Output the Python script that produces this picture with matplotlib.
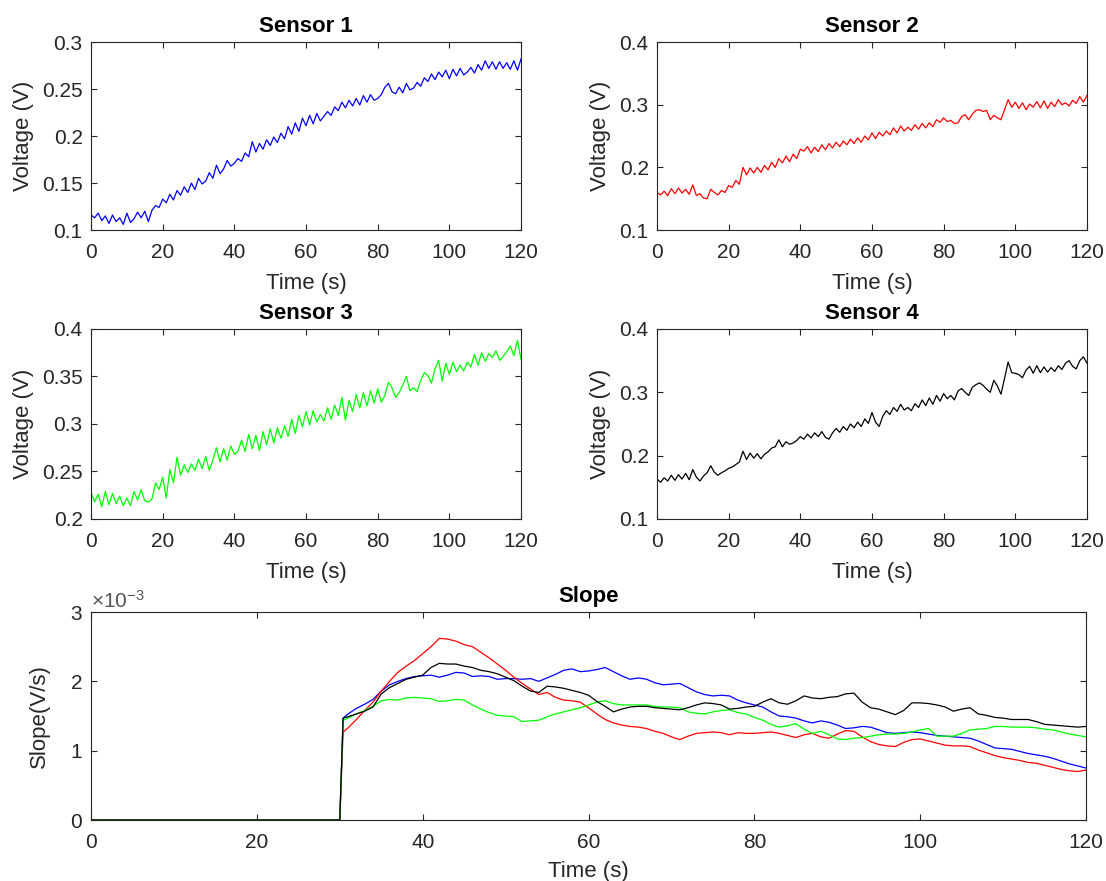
import numpy as np
import matplotlib.pyplot as plt
from matplotlib.ticker import FuncFormatter, ScalarFormatter

plt.rcParams['font.family'] = ['Liberation Sans', 'DejaVu Sans']
plt.rcParams['mathtext.default'] = 'regular'

# sensor voltages, one sample per second
t = np.arange(0, 121)

sensor1 = [
    0.116, 0.113, 0.118, 0.110, 0.115, 0.107, 0.116, 0.109, 0.113, 0.106,
    0.118, 0.108, 0.112, 0.119, 0.113, 0.120, 0.109, 0.121, 0.126, 0.124,
    0.133, 0.129, 0.138, 0.132, 0.142, 0.137, 0.146, 0.140, 0.150, 0.143,
    0.155, 0.149, 0.152, 0.161, 0.155, 0.169, 0.160, 0.165, 0.174, 0.168,
    0.171, 0.176, 0.173, 0.182, 0.178, 0.194, 0.183, 0.192, 0.186, 0.196,
    0.190, 0.199, 0.193, 0.203, 0.197, 0.210, 0.202, 0.214, 0.205, 0.219,
    0.211, 0.222, 0.213, 0.224, 0.216, 0.221, 0.226, 0.222, 0.231, 0.227,
    0.236, 0.230, 0.238, 0.232, 0.240, 0.233, 0.243, 0.236, 0.244, 0.238,
    0.240, 0.244, 0.252, 0.256, 0.247, 0.245, 0.252, 0.246, 0.256, 0.249,
    0.251, 0.257, 0.253, 0.262, 0.258, 0.266, 0.260, 0.268, 0.263, 0.270,
    0.261, 0.271, 0.264, 0.272, 0.265, 0.268, 0.273, 0.267, 0.276, 0.270,
    0.280, 0.272, 0.279, 0.271, 0.279, 0.272, 0.278, 0.271, 0.280, 0.270,
    0.282,
]

sensor2 = [
    0.160, 0.156, 0.162, 0.155, 0.166, 0.158, 0.167, 0.159, 0.165, 0.157,
    0.172, 0.155, 0.158, 0.151, 0.150, 0.165, 0.160, 0.156, 0.163, 0.160,
    0.171, 0.168, 0.179, 0.173, 0.200, 0.188, 0.199, 0.191, 0.200, 0.192,
    0.203, 0.196, 0.208, 0.200, 0.214, 0.207, 0.218, 0.209, 0.221, 0.214,
    0.229, 0.226, 0.233, 0.223, 0.232, 0.225, 0.236, 0.228, 0.238, 0.231,
    0.240, 0.233, 0.242, 0.236, 0.245, 0.238, 0.247, 0.240, 0.250, 0.244,
    0.255, 0.246, 0.256, 0.250, 0.258, 0.252, 0.263, 0.255, 0.266, 0.258,
    0.264, 0.259, 0.268, 0.261, 0.270, 0.263, 0.271, 0.265, 0.276, 0.272,
    0.279, 0.273, 0.275, 0.270, 0.271, 0.281, 0.284, 0.276, 0.285, 0.291,
    0.292, 0.289, 0.291, 0.276, 0.283, 0.279, 0.276, 0.292, 0.308, 0.296,
    0.304, 0.294, 0.303, 0.292, 0.301, 0.296, 0.305, 0.295, 0.306, 0.294,
    0.304, 0.297, 0.308, 0.300, 0.303, 0.298, 0.307, 0.302, 0.313, 0.304,
    0.315,
]

sensor3 = [
    0.228, 0.218, 0.226, 0.213, 0.229, 0.215, 0.227, 0.216, 0.224, 0.214,
    0.222, 0.214, 0.229, 0.220, 0.231, 0.219, 0.218, 0.221, 0.238, 0.231,
    0.244, 0.222, 0.252, 0.238, 0.265, 0.246, 0.257, 0.249, 0.258, 0.251,
    0.263, 0.253, 0.266, 0.251, 0.262, 0.275, 0.260, 0.274, 0.262, 0.277,
    0.268, 0.271, 0.283, 0.271, 0.289, 0.274, 0.288, 0.272, 0.292, 0.278,
    0.295, 0.280, 0.296, 0.285, 0.298, 0.287, 0.305, 0.290, 0.309, 0.297,
    0.313, 0.299, 0.314, 0.302, 0.310, 0.303, 0.317, 0.305, 0.320, 0.309,
    0.328, 0.304, 0.325, 0.313, 0.331, 0.317, 0.333, 0.319, 0.335, 0.322,
    0.337, 0.323, 0.330, 0.344, 0.338, 0.328, 0.333, 0.341, 0.350, 0.335,
    0.338, 0.334, 0.346, 0.354, 0.351, 0.343, 0.358, 0.367, 0.345, 0.364,
    0.352, 0.365, 0.355, 0.362, 0.356, 0.365, 0.360, 0.373, 0.362, 0.375,
    0.366, 0.374, 0.370, 0.377, 0.367, 0.371, 0.376, 0.382, 0.372, 0.388,
    0.368,
]

sensor4 = [
    0.163, 0.158, 0.165, 0.160, 0.169, 0.161, 0.170, 0.163, 0.172, 0.162,
    0.178, 0.166, 0.160, 0.168, 0.173, 0.184, 0.174, 0.169, 0.173, 0.176,
    0.180, 0.182, 0.186, 0.190, 0.207, 0.194, 0.204, 0.196, 0.203, 0.195,
    0.202, 0.206, 0.212, 0.214, 0.225, 0.214, 0.222, 0.218, 0.220, 0.224,
    0.230, 0.226, 0.234, 0.228, 0.236, 0.230, 0.238, 0.229, 0.226, 0.236,
    0.243, 0.237, 0.246, 0.240, 0.250, 0.244, 0.253, 0.246, 0.258, 0.251,
    0.268, 0.253, 0.246, 0.262, 0.271, 0.265, 0.276, 0.270, 0.281, 0.272,
    0.276, 0.271, 0.282, 0.276, 0.288, 0.279, 0.291, 0.281, 0.295, 0.286,
    0.298, 0.290, 0.295, 0.288, 0.302, 0.306, 0.300, 0.295, 0.308, 0.312,
    0.315, 0.311, 0.305, 0.300, 0.319, 0.310, 0.297, 0.322, 0.348, 0.331,
    0.330, 0.328, 0.323, 0.335, 0.341, 0.330, 0.342, 0.331, 0.340, 0.332,
    0.339, 0.333, 0.342, 0.336, 0.346, 0.350, 0.341, 0.337, 0.350, 0.356,
    0.346,
]

# slopes (mV/s): zero until 30 s, then one value at 30.4 s and every second after
t_slope = np.concatenate([[0, 30, 30.4], np.arange(31, 121)])

slope1 = [
    0, 0, 1.47,
    1.53, 1.61, 1.67, 1.74, 1.86, 1.95, 2.00, 2.04, 2.07, 2.08,
    2.09, 2.06, 2.09, 2.13, 2.12, 2.07, 2.08, 2.07, 2.03, 2.04,
    2.04, 2.03, 2.04, 2.00, 2.05, 2.10, 2.16, 2.18, 2.14, 2.15,
    2.17, 2.20, 2.14, 2.08, 2.03, 2.05, 2.03, 1.98, 1.95, 1.96,
    1.97, 1.91, 1.85, 1.81, 1.79, 1.80, 1.79, 1.73, 1.69, 1.66,
    1.63, 1.56, 1.50, 1.49, 1.47, 1.43, 1.40, 1.43, 1.41, 1.37,
    1.32, 1.33, 1.35, 1.34, 1.30, 1.26, 1.25, 1.26, 1.27, 1.26,
    1.24, 1.22, 1.21, 1.20, 1.19, 1.18, 1.14, 1.09, 1.04, 1.03,
    1.02, 0.99, 0.96, 0.94, 0.92, 0.89, 0.85, 0.81, 0.78, 0.75,
]

slope2 = [
    0, 0, 1.27,
    1.33, 1.45, 1.58, 1.70, 1.86, 2.00, 2.13, 2.22, 2.30, 2.40,
    2.50, 2.62, 2.61, 2.58, 2.53, 2.50, 2.42, 2.34, 2.25, 2.16,
    2.06, 1.97, 1.89, 1.81, 1.84, 1.77, 1.73, 1.72, 1.70, 1.62,
    1.53, 1.45, 1.40, 1.37, 1.35, 1.34, 1.32, 1.28, 1.25, 1.20,
    1.16, 1.21, 1.25, 1.26, 1.27, 1.26, 1.23, 1.26, 1.25, 1.25,
    1.26, 1.27, 1.25, 1.22, 1.19, 1.23, 1.25, 1.20, 1.18, 1.24,
    1.29, 1.28, 1.20, 1.13, 1.09, 1.07, 1.06, 1.12, 1.16, 1.17,
    1.14, 1.11, 1.08, 1.07, 1.07, 1.06, 1.01, 0.97, 0.93, 0.90,
    0.88, 0.86, 0.83, 0.82, 0.79, 0.76, 0.73, 0.71, 0.70, 0.72,
]

slope3 = [
    0, 0, 1.44,
    1.47, 1.53, 1.58, 1.64, 1.72, 1.74, 1.73, 1.76, 1.77, 1.76,
    1.75, 1.71, 1.72, 1.74, 1.73, 1.66, 1.60, 1.55, 1.51, 1.50,
    1.49, 1.42, 1.43, 1.44, 1.49, 1.53, 1.56, 1.59, 1.62, 1.66,
    1.70, 1.72, 1.68, 1.66, 1.66, 1.66, 1.66, 1.64, 1.63, 1.63,
    1.62, 1.56, 1.54, 1.53, 1.56, 1.58, 1.59, 1.55, 1.53, 1.48,
    1.44, 1.38, 1.34, 1.36, 1.39, 1.31, 1.25, 1.28, 1.23, 1.17,
    1.16, 1.18, 1.19, 1.21, 1.23, 1.24, 1.24, 1.25, 1.27, 1.30,
    1.32, 1.21, 1.21, 1.21, 1.25, 1.30, 1.31, 1.32, 1.35, 1.35,
    1.34, 1.34, 1.34, 1.33, 1.31, 1.30, 1.27, 1.24, 1.22, 1.20,
]

slope4 = [
    0, 0, 1.47,
    1.49, 1.53, 1.57, 1.63, 1.82, 1.91, 1.97, 2.03, 2.06, 2.09,
    2.20, 2.26, 2.25, 2.25, 2.22, 2.20, 2.16, 2.14, 2.11, 2.06,
    2.01, 1.93, 1.86, 1.84, 1.93, 1.92, 1.90, 1.87, 1.84, 1.80,
    1.71, 1.64, 1.56, 1.60, 1.63, 1.64, 1.64, 1.62, 1.61, 1.60,
    1.59, 1.62, 1.66, 1.69, 1.68, 1.66, 1.60, 1.61, 1.63, 1.64,
    1.70, 1.75, 1.69, 1.67, 1.72, 1.79, 1.76, 1.75, 1.77, 1.78,
    1.82, 1.83, 1.70, 1.62, 1.60, 1.56, 1.52, 1.58, 1.69, 1.69,
    1.68, 1.66, 1.63, 1.57, 1.60, 1.62, 1.53, 1.51, 1.48, 1.47,
    1.45, 1.45, 1.45, 1.42, 1.38, 1.37, 1.36, 1.35, 1.34, 1.35,
]

colors = ['#0000ff', '#ff0000', '#00ff00', '#000000']
titles = ['Sensor 1', 'Sensor 2', 'Sensor 3', 'Sensor 4']
ylims = [(0.1, 0.3), (0.1, 0.4), (0.2, 0.4), (0.1, 0.4)]
yticks = [
    [0.1, 0.15, 0.2, 0.25, 0.3],
    [0.1, 0.2, 0.3, 0.4],
    [0.2, 0.25, 0.3, 0.35, 0.4],
    [0.1, 0.2, 0.3, 0.4],
]
xticks = [0, 20, 40, 60, 80, 100, 120]

grey = '#262626'
tick_fs = 15
label_fs = 16

def style_axes(ax):
    for sp in ax.spines.values():
        sp.set_color(grey)
        sp.set_linewidth(0.8)
    ax.tick_params(direction='in', length=4.5, width=0.8, colors=grey,
                   labelsize=tick_fs, top=True, right=True, pad=6)
    ax.tick_params(axis='x', pad=9.5)
    ax.set_xlim(0, 120)
    ax.set_xticks(xticks)
    ax.set_xlabel('Time (s)', fontsize=label_fs, color=grey, labelpad=8)

fig = plt.figure(figsize=(11.06, 8.81), dpi=100)

positions = [
    [0.0823, 0.7389, 0.3888, 0.2134],
    [0.5940, 0.7389, 0.3888, 0.2134],
    [0.0823, 0.4109, 0.3888, 0.2157],
    [0.5940, 0.4109, 0.3888, 0.2157],
]
sensors = [sensor1, sensor2, sensor3, sensor4]

for i in range(4):
    ax = fig.add_axes(positions[i])
    ax.plot(t, sensors[i], color=colors[i], lw=0.9)
    style_axes(ax)
    ax.set_ylim(*ylims[i])
    ax.set_yticks(yticks[i])
    ax.yaxis.set_major_formatter(FuncFormatter(lambda v, p: '%g' % v))
    ax.set_ylabel('Voltage (V)', fontsize=label_fs, color=grey, labelpad=6)
    ax.set_title(titles[i], fontsize=label_fs, fontweight='bold', pad=7)

# slope of all four sensors
ax = fig.add_axes([0.0823, 0.0692, 0.8997, 0.2361])
for s, c in zip([slope1, slope2, slope3, slope4], colors):
    ax.plot(t_slope, np.array(s) * 1e-3, color=c, lw=0.9)
style_axes(ax)
ax.set_xlabel('Time (s)', fontsize=label_fs, color=grey, labelpad=6)
ax.set_ylim(0, 3e-3)
ax.set_yticks([0, 1e-3, 2e-3, 3e-3])
fmt = ScalarFormatter(useMathText=True)
fmt.set_powerlimits((-3, -3))
ax.yaxis.set_major_formatter(fmt)
ax.yaxis.get_offset_text().set_fontsize(tick_fs)
ax.yaxis.get_offset_text().set_color('#555555')
ax.set_ylabel('Slope(V/s)', fontsize=label_fs, color=grey, labelpad=14)
ax.set_title('Slope', fontsize=label_fs, fontweight='bold', pad=7)

fig.savefig('out.png', dpi=100)
